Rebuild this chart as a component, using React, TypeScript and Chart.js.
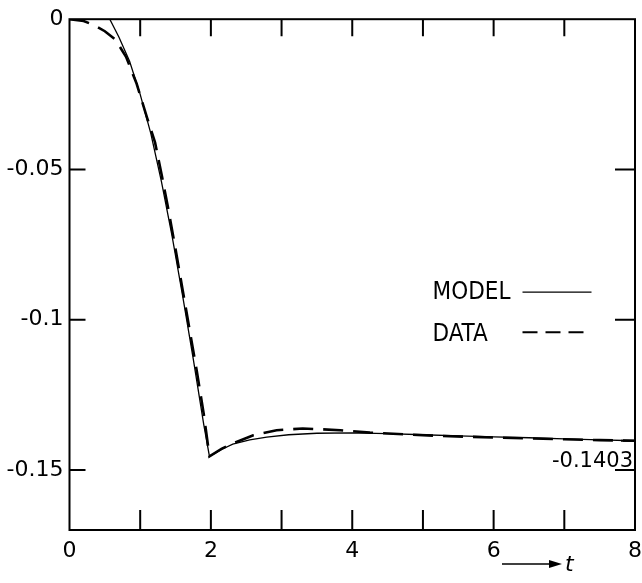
import React, { useEffect, useRef } from 'react';
import { Chart, registerables } from 'chart.js';
Chart.register(...registerables);

// MODEL curve (solid)
const modelT = [0, 0.57, 0.7, 0.85, 1.0, 1.15, 1.3, 1.45, 1.6, 1.75, 1.9, 1.98, 2.15, 2.31, 2.55, 2.79, 3.1, 3.5, 4.0, 4.5, 5.0, 5.5, 6.0, 6.5, 7.0, 7.5, 8.0];
const modelV = [0, 0, -0.006, -0.014, -0.025, -0.038, -0.054, -0.072, -0.092, -0.113, -0.135, -0.1455, -0.1432, -0.1414, -0.14, -0.1391, -0.1383, -0.1378, -0.1377, -0.1379, -0.1383, -0.1387, -0.139, -0.1393, -0.1397, -0.14, -0.1403];

// DATA curve (dashed)
const dataT = [0, 0.2, 0.35, 0.5, 0.65, 0.8, 0.95, 1.1, 1.21, 1.31, 1.4, 1.5, 1.6, 1.7, 1.8, 1.9, 1.98, 2.15, 2.31, 2.6, 2.93, 3.3, 3.83, 4.25, 4.78, 5.24, 6.0, 6.5, 7.0, 7.5, 8.0];
const dataV = [0, -0.0006, -0.002, -0.004, -0.0068, -0.0125, -0.0215, -0.033, -0.041, -0.0525, -0.0635, -0.0765, -0.09, -0.1035, -0.117, -0.1315, -0.1455, -0.143, -0.1412, -0.1385, -0.1368, -0.1362, -0.1368, -0.1376, -0.1382, -0.1387, -0.1392, -0.1395, -0.1398, -0.1401, -0.1403];

const xLabelValues = [0, 2, 4, 6, 8];
const xMinorTicks = [1, 2, 3, 4, 5, 6, 7];
const yTickValues = [0, -0.05, -0.1, -0.15];
const yTickLabels = ['0', '-0.05', '-0.1', '-0.15'];
const finalValue = -0.1403;
const finalLabel = '-0.1403';
const legendLabels = ['MODEL', 'DATA'];
const axisSymbol = 't';

const tickFont = "'DejaVu Sans', sans-serif";
const legendFont = "'Liberation Sans Narrow', 'DejaVu Sans Condensed', 'DejaVu Sans', sans-serif";

const framePlugin = {
  id: 'frame',
  afterDraw(chart: any) {
    const { ctx, chartArea } = chart;
    const { left, right, top, bottom } = chartArea;
    const xs = chart.scales.x;
    const ys = chart.scales.y;
    ctx.save();
    ctx.strokeStyle = '#000';
    ctx.lineWidth = 2;
    ctx.setLineDash([]);
    ctx.strokeRect(left, top, right - left, bottom - top);
    ctx.beginPath();
    xMinorTicks.forEach((v) => {
      const px = xs.getPixelForValue(v);
      ctx.moveTo(px, bottom);
      ctx.lineTo(px, bottom - 20);
      ctx.moveTo(px, top);
      ctx.lineTo(px, top + 17);
    });
    yTickValues.slice(1).forEach((v) => {
      const py = ys.getPixelForValue(v);
      ctx.moveTo(left, py);
      ctx.lineTo(left + 16, py);
      ctx.moveTo(right, py);
      ctx.lineTo(right - 20, py);
    });
    const pf = ys.getPixelForValue(finalValue);
    ctx.moveTo(right, pf);
    ctx.lineTo(right - 14, pf);
    ctx.stroke();

    // final value label
    ctx.fillStyle = '#000';
    ctx.font = `21px ${tickFont}`;
    ctx.textAlign = 'right';
    ctx.textBaseline = 'alphabetic';
    ctx.fillText(finalLabel, right - 2, pf + 26);

    // legend
    const lx = left + 363;
    const ly1 = top + 280;
    const ly2 = top + 322;
    ctx.font = `24px ${legendFont}`;
    ctx.textAlign = 'left';
    ctx.fillText(legendLabels[0], lx, ly1);
    ctx.fillText(legendLabels[1], lx, ly2);
    ctx.lineWidth = 1.3;
    ctx.beginPath();
    ctx.moveTo(lx + 90, ly1 - 7);
    ctx.lineTo(lx + 159, ly1 - 7);
    ctx.stroke();
    ctx.lineWidth = 2;
    ctx.setLineDash([15, 8]);
    ctx.beginPath();
    ctx.moveTo(lx + 90, ly2 - 9);
    ctx.lineTo(lx + 159, ly2 - 9);
    ctx.stroke();
    ctx.setLineDash([]);

    // axis arrow and symbol
    const ay = bottom + 34;
    ctx.lineWidth = 1.5;
    ctx.beginPath();
    ctx.moveTo(right - 133, ay);
    ctx.lineTo(right - 80, ay);
    ctx.stroke();
    ctx.beginPath();
    ctx.moveTo(right - 73, ay);
    ctx.lineTo(right - 86, ay - 4);
    ctx.lineTo(right - 86, ay + 4);
    ctx.closePath();
    ctx.fill();
    ctx.font = `italic 22px ${tickFont}`;
    ctx.textAlign = 'left';
    ctx.fillText(axisSymbol, right - 70, ay + 7);
    ctx.restore();
  },
};

export default function App() {
  const ref = useRef<HTMLCanvasElement | null>(null);
  useEffect(() => {
    if (!ref.current) return;
    const chart = new Chart(ref.current, {
      type: 'scatter',
      data: {
        datasets: [
          {
            label: 'MODEL',
            data: modelT.map((t, i) => ({ x: t, y: modelV[i] })),
            showLine: true,
            borderColor: '#000',
            borderWidth: 1.3,
            pointRadius: 0,
            tension: 0,
          },
          {
            label: 'DATA',
            data: dataT.map((t, i) => ({ x: t, y: dataV[i] })),
            showLine: true,
            borderColor: '#000',
            borderWidth: 2.6,
            borderDash: [20, 10],
            pointRadius: 0,
            tension: 0,
          },
        ],
      },
      options: {
        animation: false,
        responsive: false,
        maintainAspectRatio: false,
        layout: { padding: { top: 15, right: 7, left: 0, bottom: 0 } },
        plugins: { legend: { display: false }, tooltip: { enabled: false } },
        scales: {
          x: {
            type: 'linear',
            min: 0,
            max: 8,
            grid: { display: false, drawTicks: false },
            border: { display: false },
            afterBuildTicks: (s: any) => {
              s.ticks = xLabelValues.map((v) => ({ value: v }));
            },
            afterFit: (s: any) => {
              s.height = 53;
              s.paddingLeft = 0;
              s.paddingRight = 0;
            },
            ticks: {
              color: '#000',
              padding: 8,
              maxRotation: 0,
              autoSkip: false,
              font: { family: tickFont, size: 22 },
              callback: (v: any) => String(v),
            },
          },
          y: {
            type: 'linear',
            min: -0.17,
            max: 0,
            grid: { display: false, drawTicks: false },
            border: { display: false },
            afterBuildTicks: (s: any) => {
              s.ticks = yTickValues.map((v) => ({ value: v }));
            },
            afterFit: (s: any) => {
              s.width = 69.5;
            },
            ticks: {
              color: '#000',
              padding: 6,
              autoSkip: false,
              font: { family: tickFont, size: 22 },
              callback: (v: any) => {
                const i = yTickValues.findIndex((t) => Math.abs(t - v) < 1e-9);
                return i >= 0 ? yTickLabels[i] : '';
              },
            },
          },
        },
      },
      plugins: [framePlugin],
    });
    return () => chart.destroy();
  }, []);
  return (
    <div style={{ position: 'absolute', left: 0, top: 0, width: 642, height: 583, background: '#fff' }}>
      <canvas ref={ref} width={642} height={583} style={{ width: 642, height: 583 }} />
    </div>
  );
}
